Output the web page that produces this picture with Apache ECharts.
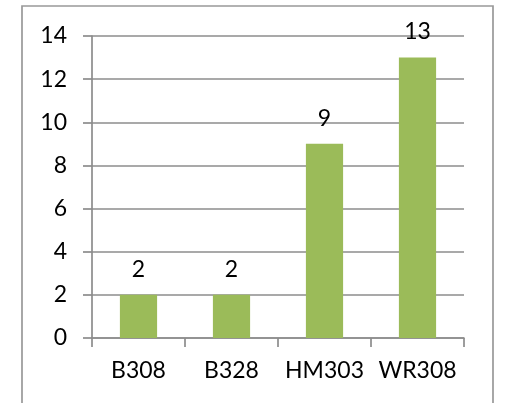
<!DOCTYPE html>
<html>
<head>
<meta charset="utf-8">
<script src="https://cdn.jsdelivr.net/npm/echarts@6/dist/echarts.min.js"></script>
<style>
  html, body { margin: 0; padding: 0; background: #ffffff; }
  #chart { width: 510px; height: 403px; }
</style>
</head>
<body>
<div id="chart"></div>
<script>
// Counts per room
const categories = ['B308', 'B328', 'HM303', 'WR308'];
const counts = [2, 2, 9, 13];
const yTicks = { min: 0, max: 14, interval: 2 };

const FONT = 'Lato';
const GRAY = '#8c8c8c';

const chart = echarts.init(document.getElementById('chart'), null, { renderer: 'canvas' });

chart.setOption({
  animation: false,
  backgroundColor: '#ffffff',
  graphic: [{
    type: 'rect',
    shape: { x: 22, y: 6, width: 471, height: 410 },
    style: { fill: 'none', stroke: '#999999', lineWidth: 1.7 },
    z: -1
  }],
  grid: { left: 92, right: 46, top: 36, bottom: 65, containLabel: false },
  xAxis: {
    type: 'category',
    data: categories,
    boundaryGap: true,
    axisLine: { show: true, lineStyle: { color: GRAY, width: 1.7 } },
    axisTick: { show: true, length: 9, alignWithLabel: false, interval: 0, lineStyle: { color: GRAY, width: 1.7 } },
    axisLabel: { color: '#000000', fontFamily: FONT, fontSize: 23, margin: 21, interval: 0, hideOverlap: false }
  },
  yAxis: {
    type: 'value',
    min: yTicks.min,
    max: yTicks.max,
    interval: yTicks.interval,
    axisLine: { show: true, lineStyle: { color: GRAY, width: 1.7 } },
    axisTick: { show: true, length: 9, lineStyle: { color: GRAY, width: 1.7 } },
    axisLabel: { color: '#000000', fontFamily: FONT, fontSize: 23, margin: 25 },
    splitLine: { show: true, lineStyle: { color: GRAY, width: 1.7 } }
  },
  series: [{
    type: 'bar',
    data: counts,
    barWidth: '40%',
    itemStyle: { color: '#9bbb59' },
    label: {
      show: true,
      position: 'top',
      distance: 14,
      color: '#000000',
      fontFamily: FONT,
      fontSize: 23
    }
  }]
});
</script>
</body>
</html>
